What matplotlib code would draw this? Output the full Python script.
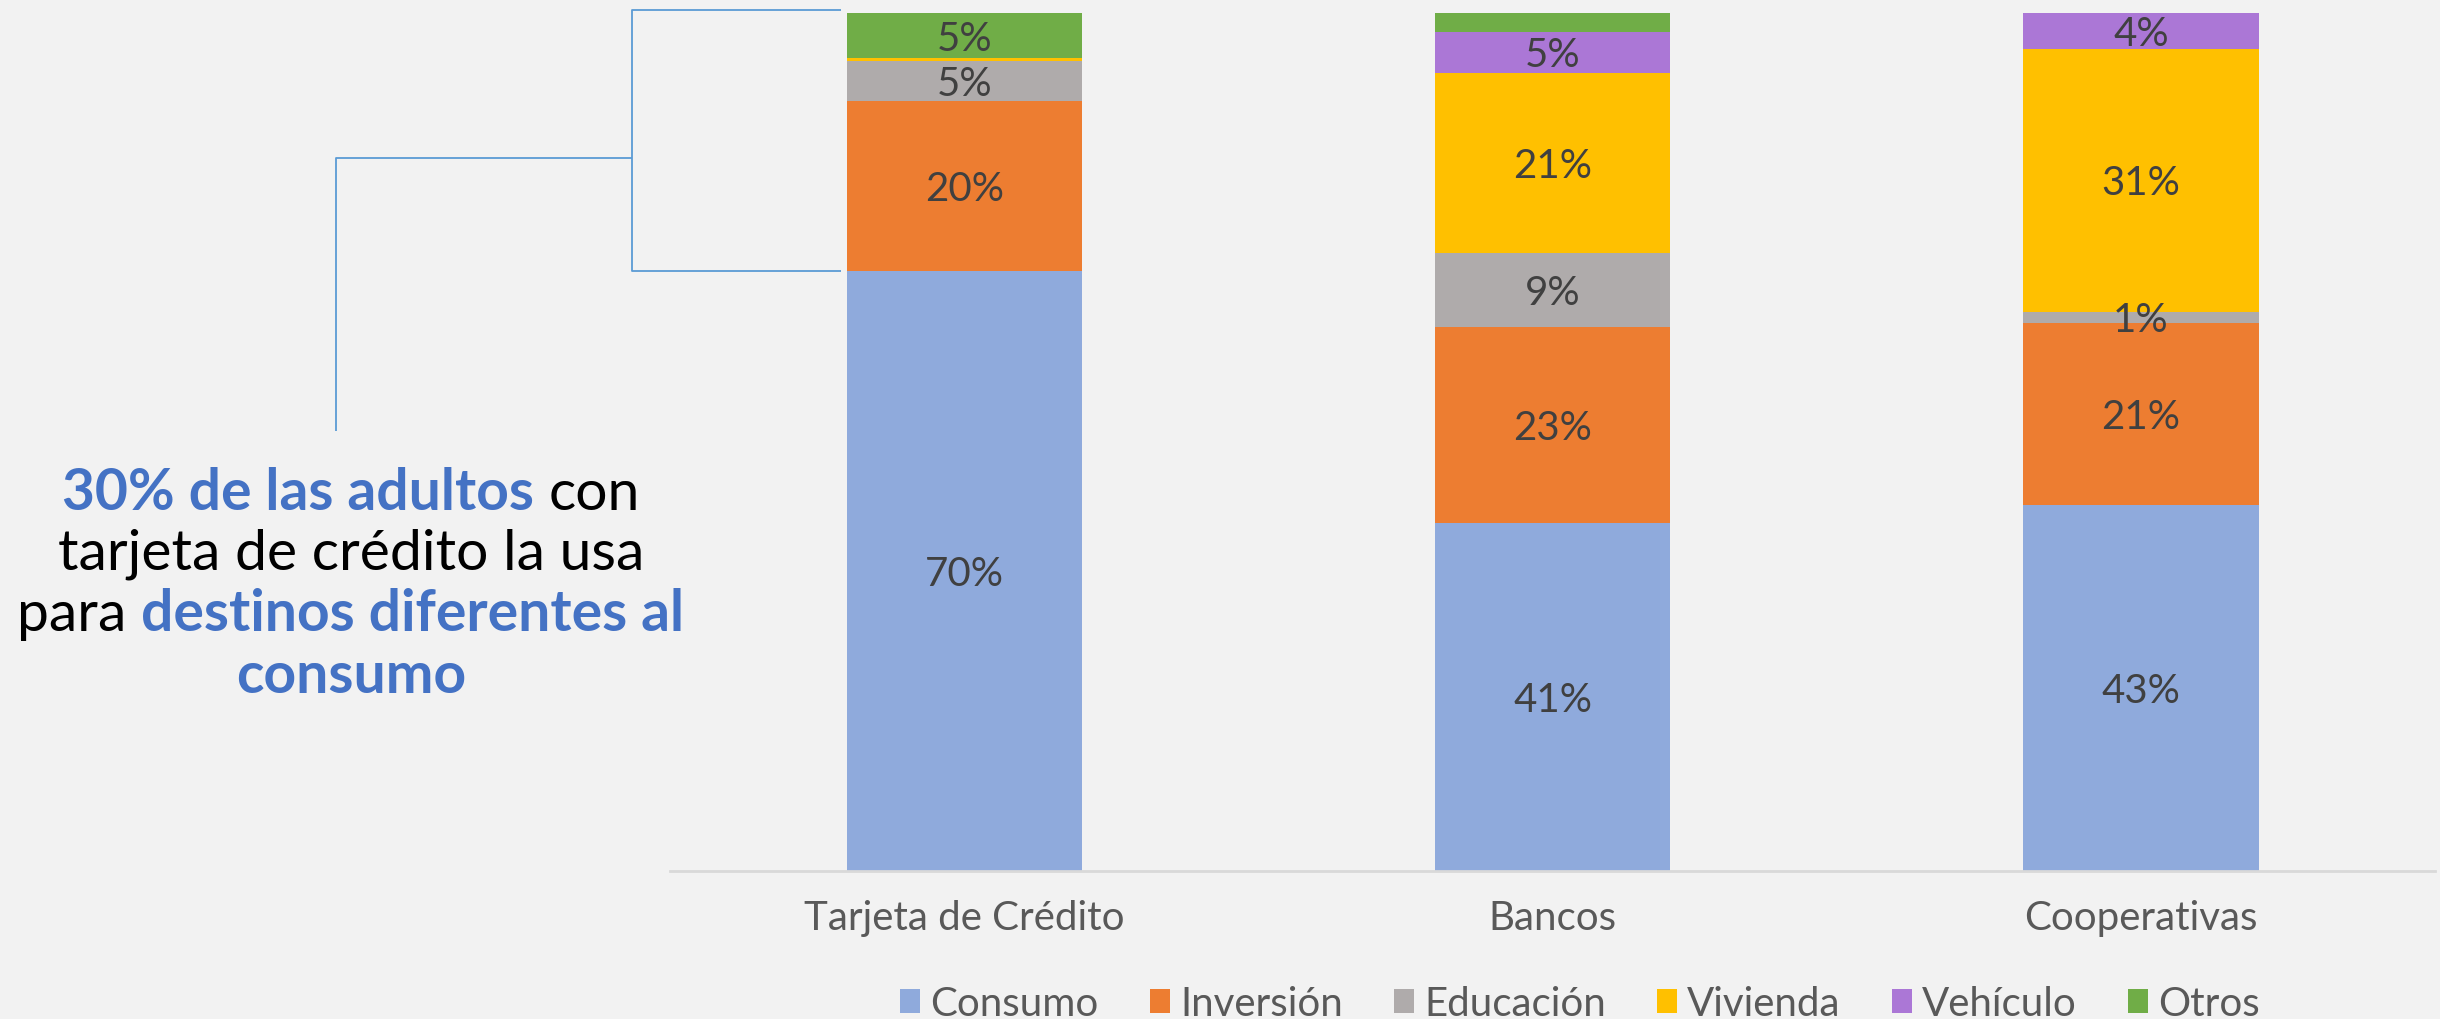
import matplotlib
matplotlib.use("Agg")
import matplotlib.pyplot as plt
from matplotlib.patches import Patch
from matplotlib.offsetbox import TextArea, HPacker, VPacker, AnchoredOffsetbox
import numpy as np

# ---------------- data ----------------
categories = ["Tarjeta de Crédito", "Bancos", "Cooperativas"]
series_names = ["Consumo", "Inversión", "Educación", "Vivienda", "Vehículo", "Otros"]
consumo = [69.9, 40.6, 42.6]
inversion = [19.9, 22.8, 21.3]
educacion = [4.6, 8.6, 1.3]
vivienda = [0.3, 21.0, 30.6]
vehiculo = [0.0, 4.8, 4.2]
otros = [5.3, 2.2, 0.0]
hidden_labels = {("Bancos", "Otros")}

colors = ["#8FAADC", "#ED7D31", "#AFABAB", "#FFC000", "#AB77D6", "#70AD47"]
BG = "#F2F2F2"
FONT = ["Lato", "DejaVu Sans"]

plt.rcParams["font.family"] = FONT

fig = plt.figure(figsize=(24.4, 10.19), dpi=100, facecolor=BG)
ax = fig.add_axes([670 / 2440, 148 / 1019, 1765 / 2440, 858 / 1019])
ax.set_facecolor(BG)

values = [consumo, inversion, educacion, vivienda, vehiculo, otros]
x = np.arange(len(categories))
bottom = np.zeros(len(categories))
for name, vals, col in zip(series_names, values, colors):
    vals = np.array(vals, dtype=float)
    ax.bar(x, vals, width=0.4, bottom=bottom, color=col, edgecolor="none", label=name)
    for i, v in enumerate(vals):
        if v >= 1 and (categories[i], name) not in hidden_labels:
            ax.text(x[i], bottom[i] + v / 2, f"{round(v):.0f}%", ha="center", va="center_baseline",
                    fontsize=29, color="#404040")
    bottom += vals

ax.set_xlim(-0.5, len(categories) - 0.5)
ax.set_ylim(0, 100)
ax.set_xticks(x)
ax.set_xticklabels(categories, fontsize=29, color="#595959")
ax.tick_params(axis="x", length=0, pad=21)
ax.set_yticks([])
for s in ["top", "right", "left"]:
    ax.spines[s].set_visible(False)
ax.spines["bottom"].set_color("#D9D9D9")
ax.spines["bottom"].set_linewidth(2)

# ---------------- bracket connector ----------------
lc = "#5B9BD5"
y_top = 100.4
y_bot = consumo[0]
xb = -0.565
xe = -0.209
ymid = 83.1
xl = -1.068
ylow = 51.3
kw = dict(color=lc, lw=1.3, clip_on=False, solid_capstyle="butt")
ax.plot([xe, xb, xb, xe], [y_top, y_top, y_bot, y_bot], **kw)
ax.plot([xb, xl, xl], [ymid, ymid, ylow], **kw)

# ---------------- annotation text ----------------
blue = "#4472C4"
fs = 41
def piece(t, bold):
    return TextArea(t, textprops=dict(fontsize=fs, color=blue if bold else "black",
                                      fontweight="bold" if bold else "normal",
                                      family=FONT))
lines = [
    [("30% de las adultos ", True), ("con", False)],
    [("tarjeta de crédito la usa", False)],
    [("para ", False), ("destinos diferentes al", True)],
    [("consumo", True)],
]
rows = [HPacker(children=[piece(t, b) for t, b in ln], align="baseline", pad=0, sep=0)
        for ln in lines]
box = VPacker(children=rows, align="center", pad=0, sep=6)
anch = AnchoredOffsetbox(loc="center", child=box, frameon=False,
                         bbox_to_anchor=(351 / 2440, (1019 - 585) / 1019),
                         bbox_transform=fig.transFigure, borderpad=0, pad=0)
fig.add_artist(anch)

# ---------------- legend ----------------
handles = [Patch(facecolor=c, edgecolor="none") for c in colors]
leg = fig.legend(handles, series_names, loc="center", ncol=6,
                 bbox_to_anchor=(1580 / 2440, 15 / 1019), frameon=False,
                 fontsize=29, handlelength=0.5, handleheight=0.55,
                 handletextpad=0.26, columnspacing=1.26, borderpad=0, borderaxespad=0)
for t in leg.get_texts():
    t.set_color("#595959")

fig.savefig("out.png", dpi=100, facecolor=BG)
